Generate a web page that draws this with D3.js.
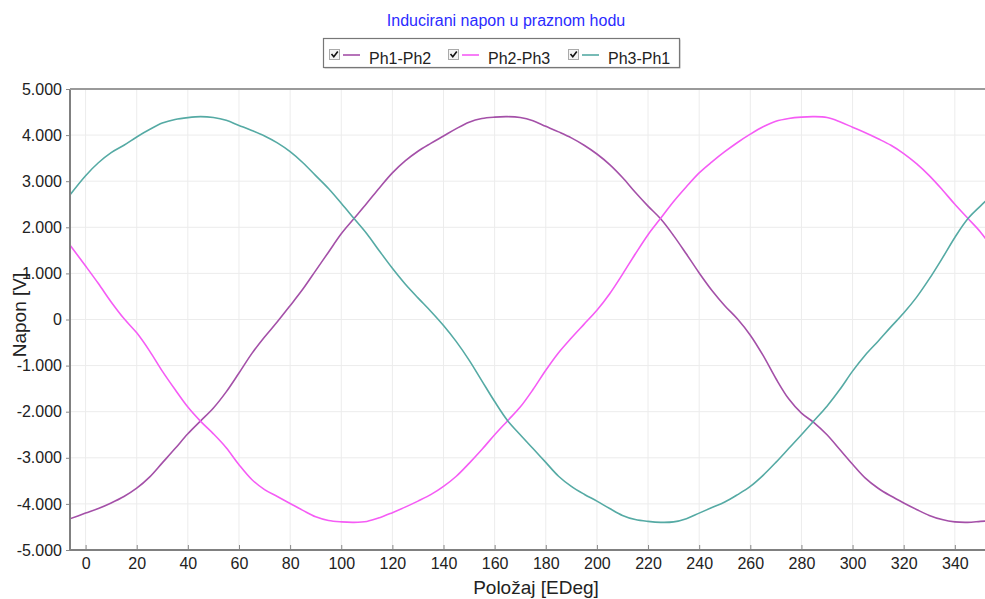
<!DOCTYPE html>
<html>
<head>
<meta charset="utf-8">
<script src="https://cdn.jsdelivr.net/npm/d3@7"></script>
<style>
  body { margin: 0; background: #fff; }
  svg { display: block; font-family: "Liberation Sans", Arial, sans-serif; }
</style>
</head>
<body>
<div id="chart"></div>
<script>
// Data (angle in EDeg, voltage)
const angles = [-7, 0, 5, 10, 15, 20, 25, 30, 35, 40, 45,
  50, 55, 60, 65, 70, 75, 80, 85, 90, 95,
  100, 105, 110, 115, 120, 125, 130, 135, 140, 145,
  150, 155, 160, 165, 170, 175, 180, 185, 190, 195,
  200, 205, 210, 215, 220, 225, 230, 235, 240, 245,
  250, 255, 260, 265, 270, 275, 280, 285, 290, 295,
  300, 305, 310, 315, 320, 325, 330, 335, 340, 345,
  350, 355];

const ph1ph2 = [-4340, -4200, -4100, -3980, -3840, -3660, -3420, -3110, -2800, -2480, -2200,
  -1920, -1570, -1160, -740, -380, -50, 300, 660, 1060, 1460,
  1860, 2190, 2520, 2860, 3180, 3440, 3650, 3820, 3980, 4140,
  4280, 4360, 4390, 4400, 4380, 4310, 4190, 4070, 3940, 3780,
  3590, 3360, 3080, 2760, 2460, 2180, 1820, 1420, 1010, 630,
  300, 10, -340, -780, -1280, -1720, -2030, -2240, -2500, -2820,
  -3140, -3440, -3660, -3830, -3980, -4120, -4250, -4340, -4390, -4400,
  -4380, -4360];

const ph2ph3 = [1680, 1160, 780, 380, 20, -290, -680, -1120, -1520, -1900, -2210,
  -2480, -2780, -3150, -3470, -3690, -3840, -3990, -4140, -4280, -4360,
  -4390, -4400, -4380, -4300, -4190, -4070, -3940, -3800, -3620, -3400,
  -3120, -2820, -2500, -2200, -1900, -1520, -1100, -720, -400, -100,
  200, 560, 980, 1420, 1840, 2200, 2560, 2880, 3180, 3420,
  3640, 3840, 4020, 4180, 4300, 4360, 4390, 4400, 4380, 4290,
  4170, 4050, 3920, 3780, 3600, 3380, 3120, 2820, 2500, 2200,
  1900, 1520];

const ph3ph1 = [2640, 3120, 3400, 3620, 3780, 3960, 4120, 4260, 4340, 4380, 4400,
  4380, 4320, 4210, 4100, 3980, 3830, 3640, 3400, 3120, 2840,
  2520, 2190, 1860, 1480, 1110, 770, 470, 180, -130, -480,
  -880, -1330, -1780, -2190, -2500, -2800, -3100, -3400, -3620, -3790,
  -3940, -4100, -4250, -4340, -4380, -4400, -4390, -4320, -4200, -4080,
  -3960, -3800, -3620, -3380, -3100, -2800, -2500, -2190, -1880, -1520,
  -1120, -770, -470, -160, 140, 480, 880, 1320, 1780, 2180,
  2460, 2720];

const seriesNames = ["Ph1-Ph2", "Ph2-Ph3", "Ph3-Ph1"];
const seriesColors = ["#a450a8", "#f55cf5", "#55aaa4"];
const xTicks = d3.range(0, 341, 20);
const yTicks = d3.range(-5000, 5001, 1000);

const series = [ph1ph2, ph2ph3, ph3ph1].map((vals, i) => ({
  name: seriesNames[i],
  color: seriesColors[i],
  values: angles.map((a, j) => ({ x: a, y: vals[j] }))
}));

// Dimensions
const W = 985, H = 599;
const margin = { top: 89, right: 0, bottom: 49, left: 70 };
const width = W - margin.left - margin.right;
const height = H - margin.top - margin.bottom;

const svg = d3.select("#chart").append("svg")
  .attr("width", W)
  .attr("height", H);

svg.append("rect").attr("width", W).attr("height", H).attr("fill", "#fff");

const g = svg.append("g")
  .attr("transform", `translate(${margin.left},${margin.top})`);

// Scales
const xScale = d3.scaleLinear().domain([-6.1, 351.8]).range([0, width]);
const yScale = d3.scaleLinear().domain([-5000, 5000]).range([height, 0]);

const loc = d3.formatLocale({ decimal: ",", thousands: ".", grouping: [3], currency: ["", ""], minus: "-" });
const fmt = loc.format(",");

// Grid
g.append("g").selectAll("line").data(xTicks).join("line")
  .attr("x1", d => xScale(d)).attr("x2", d => xScale(d))
  .attr("y1", 0).attr("y2", height)
  .attr("stroke", "#ececec").attr("stroke-width", 1);

g.append("g").selectAll("line").data(yTicks).join("line")
  .attr("x1", 0).attr("x2", width)
  .attr("y1", d => yScale(d)).attr("y2", d => yScale(d))
  .attr("stroke", "#ececec").attr("stroke-width", 1);

// Lines
g.append("clipPath").attr("id", "clip")
  .append("rect").attr("width", width).attr("height", height);

const line = d3.line()
  .x(d => xScale(d.x))
  .y(d => yScale(d.y))
  .curve(d3.curveCatmullRom.alpha(0.5));

g.append("g").attr("clip-path", "url(#clip)")
  .selectAll("path").data(series).join("path")
  .attr("d", d => line(d.values))
  .attr("fill", "none")
  .attr("stroke", d => d.color)
  .attr("stroke-width", 1.6);

// Axes
const xAxis = d3.axisBottom(xScale).tickValues(xTicks).tickSize(-5).tickPadding(8);
const yAxis = d3.axisLeft(yScale).tickValues(yTicks).tickSize(4).tickPadding(4).tickFormat(fmt);

const gx = g.append("g").attr("transform", `translate(0,${height})`).call(xAxis);
const gy = g.append("g").call(yAxis);

[gx, gy].forEach(a => {
  a.select(".domain").remove();
  a.selectAll(".tick line").attr("stroke", "#888");
  a.selectAll("text").attr("fill", "#222").style("font-size", "16px")
    .style("font-family", "'Liberation Sans', Arial, sans-serif");
});

// frame lines
g.append("line").attr("x1", 0).attr("x2", 0).attr("y1", 0).attr("y2", height)
  .attr("stroke", "#808080").attr("stroke-width", 2);
g.append("line").attr("x1", 0).attr("x2", width).attr("y1", height).attr("y2", height)
  .attr("stroke", "#808080").attr("stroke-width", 2);
g.append("line").attr("x1", 0).attr("x2", width).attr("y1", 0).attr("y2", 0)
  .attr("stroke", "#9a9a9a").attr("stroke-width", 2);

// Axis titles
svg.append("text")
  .attr("x", 536).attr("y", 594)
  .attr("text-anchor", "middle")
  .style("font-size", "19px").attr("fill", "#222")
  .text("Položaj [EDeg]");

svg.append("text")
  .attr("transform", "translate(26,315) rotate(-90)")
  .attr("text-anchor", "middle")
  .style("font-size", "19px").attr("fill", "#222")
  .text("Napon [V]");

// Title
svg.append("text")
  .attr("x", 506).attr("y", 26)
  .attr("text-anchor", "middle")
  .style("font-size", "16px").attr("fill", "#2b2bff")
  .text("Inducirani napon u praznom hodu");

// Legend
const legend = svg.append("g");
legend.append("rect")
  .attr("x", 324.5).attr("y", 39.5).attr("width", 356).attr("height", 29)
  .attr("fill", "#bbb");
legend.append("rect")
  .attr("x", 323.5).attr("y", 38.5).attr("width", 356).attr("height", 29)
  .attr("fill", "#fff").attr("stroke", "#777").attr("stroke-width", 1.2);

const legX = [329, 448, 568];
const items = legend.selectAll("g.item").data(series).join("g")
  .attr("class", "item")
  .attr("transform", (d, i) => `translate(${legX[i]},0)`);

items.append("rect")
  .attr("x", 0.5).attr("y", 49.5).attr("width", 10).attr("height", 10)
  .attr("fill", "#f4f4f4").attr("stroke", "#aaa");
items.append("path")
  .attr("d", "M2.5,54 L4.8,56.8 L8.8,51.5")
  .attr("fill", "none").attr("stroke", "#111").attr("stroke-width", 1.6);
items.append("line")
  .attr("x1", 14).attr("x2", 31).attr("y1", 55).attr("y2", 55)
  .attr("stroke", d => d.color).attr("stroke-width", 1.6);
items.append("text")
  .attr("x", 40).attr("y", 64)
  .style("font-size", "16px").attr("fill", "#222")
  .text(d => d.name);
</script>
</body>
</html>
